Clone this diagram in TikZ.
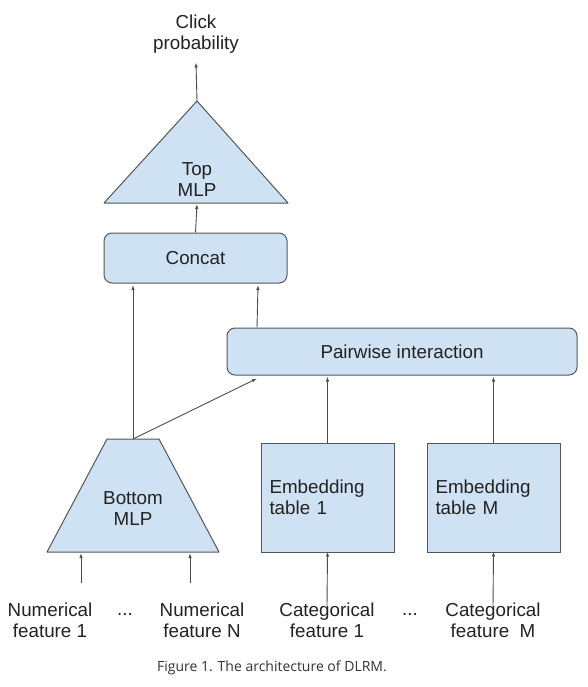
\documentclass[tikz,border=0pt]{standalone}
\usepackage{fontspec}
\setmainfont{Liberation Sans}
\newfontfamily\capfont{Open Sans}
\usepackage{tikz}
\usetikzlibrary{arrows.meta, calc}
\definecolor{boxblue}{HTML}{CFE2F3}
\definecolor{edgegray}{HTML}{555555}
\definecolor{inkgray}{HTML}{222222}

\begin{document}
\begin{tikzpicture}[x=1pt, y=-1pt,
	block/.style={draw=edgegray, fill=boxblue, line width=1pt},
	flow/.style={-{Latex[length=5pt,width=3.5pt]}, draw=black!70, line width=0.9pt},
	txt/.style={font=\fontsize{18.8}{21}\selectfont, text=inkgray}]
\useasboundingbox (0,0) rectangle (587,687);

% Top MLP triangle
\draw[block, line join=round] (197,101) coordinate (topapex) -- (288,203) -- (104,203) -- cycle;
\coordinate (topbase) at (197,203);
\node[txt, align=center, inner sep=0pt] (topmlp) at (197,180) {Top\\MLP};

% Output label
\node[txt, align=center, inner sep=0pt] (click) at (196,34) {Click\\probability};

% Concat and pairwise interaction
\node[block, txt, rounded corners=8pt, minimum width=183pt, minimum height=50pt] (concat) at (195.5,258) {Concat};
\node[block, txt, rounded corners=8pt, minimum width=350pt, minimum height=47pt] (pairwise) at (402,351.5) {Pairwise interaction};

% Bottom MLP trapezoid
\draw[block, line join=round] (107,439) -- (159,439) -- (219,552) -- (47,552) -- cycle;
\coordinate (botapex) at (133,439);
\node[txt, align=center, inner sep=0pt] (botmlp) at (133,509) {Bottom\\MLP};

% Embedding tables
\node[block, txt, minimum width=133pt, minimum height=109pt, text width=116pt, align=left, inner xsep=8.5pt] (emb1) at (327.5,497.5) {Embedding\\table 1};
\node[block, txt, minimum width=133pt, minimum height=109pt, text width=116pt, align=left, inner xsep=8.5pt] (embM) at (493.5,497.5) {Embedding\\table M};

% Input features
\node[txt, align=center, inner sep=0pt] (num1) at (50,620) {Numerical\\feature 1};
\node[txt, align=center, inner sep=0pt] (numN) at (202,620) {Numerical\\feature N};
\node[txt, align=center, inner sep=0pt] (cat1) at (327,620) {Categorical\\feature 1};
\node[txt, align=center, inner sep=0pt] (catM) at (493,620) {Categorical\\feature\ \ M};
\node[txt, inner sep=0pt] (dotsA) at (125,614) {...};
\node[txt, inner sep=0pt] (dotsB) at (410,614) {...};

% Input arrows
\coordinate (in1) at (81,583);
\coordinate (inN) at (190,583);
\draw[flow] (in1) -- (81,553);
\draw[flow] (inN) -- (190,553);
\draw[flow] ([yshift=-4pt]cat1.north) -- ([yshift=1pt]emb1.south);
\draw[flow] ([yshift=-4pt]catM.north) -- ([yshift=1pt]embM.south);

% Into pairwise interaction
\draw[flow] (emb1.north) -- ([yshift=-1pt]pairwise.south -| emb1.north);
\draw[flow] (embM.north) -- ([yshift=-1pt]pairwise.south -| embM.north);
\draw[flow] (botapex) -- ([yshift=-3pt]pairwise.south -| 257,0);

% Into concat
\draw[flow] (botapex) -- ([yshift=-1.5pt]concat.south -| botapex);
\draw[flow] (pairwise.north -| 257,0) -- ([yshift=-1.5pt]concat.south -| 258,0);

% Into top MLP and output
\draw[flow] (concat.north) -- ([yshift=-1pt]topbase);
\draw[flow] (topapex) -- ([yshift=-9pt]click.south);

% Caption
\node[font=\capfont\fontsize{14}{17}\selectfont, text=black!80, inner sep=0pt] (caption) at (272,668) {Figure 1. The architecture of DLRM.};
\end{tikzpicture}
\end{document}
